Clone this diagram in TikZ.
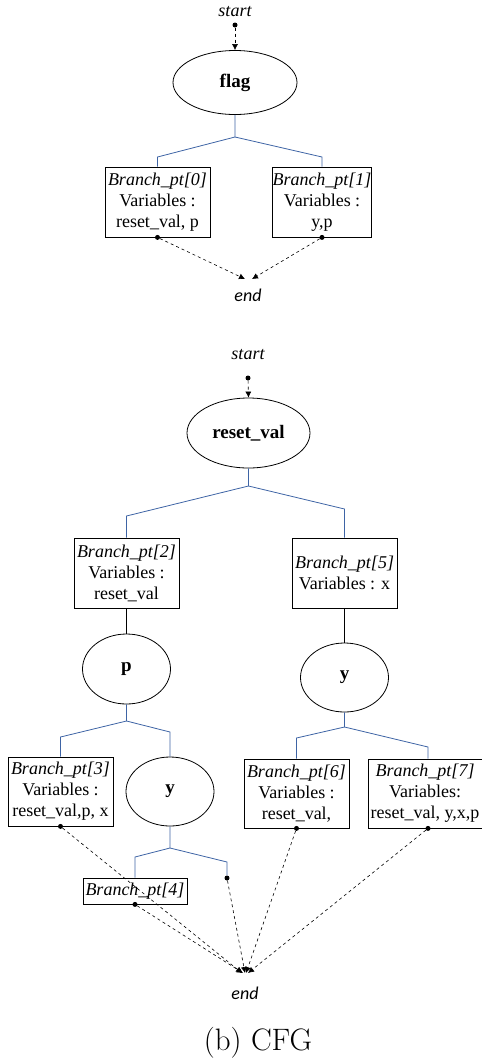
\documentclass[tikz,border=0pt]{standalone}
\usepackage{fontspec}
\newfontfamily\tnrfont{Liberation Serif}
\newfontfamily\endfont{Carlito}
\usetikzlibrary{arrows.meta,shapes.geometric,calc}
\definecolor{treeblue}{RGB}{62,100,165}
\begin{document}
\begin{tikzpicture}[x=1pt,y=-1pt,
  every node/.style={font=\tnrfont\fontsize{18}{21}\selectfont},
  bbox/.style={draw,line width=0.8pt,rectangle,align=center,inner sep=0pt,minimum width=105,minimum height=70},
  vnode/.style={draw,line width=0.8pt,ellipse,inner sep=0pt,font=\tnrfont\bfseries\fontsize{19}{21}\selectfont},
  tree/.style={draw=treeblue,line width=0.8pt},
  plain/.style={draw,line width=0.8pt},
  darr/.style={draw,dashed,line width=0.6pt,-{Latex[length=6pt,width=6pt]}},
  dotn/.style={circle,fill,inner sep=0pt,minimum size=5pt},
  lbl/.style={font=\tnrfont\itshape\fontsize{18}{21}\selectfont},
  endlbl/.style={font=\endfont\itshape\fontsize{18}{21}\selectfont}]
\useasboundingbox (0,0) rectangle (482,1061);

% ---------- first CFG ----------
\node[lbl] (s1) at (235,12) {start};
\node[dotn] (d1) at (235,25) {};
\node[vnode,minimum width=124,minimum height=64] (flag) at (235,82.5) {flag};
\draw[darr] (d1) -- (flag.north);
\node[bbox,minimum width=105] (b0) at (157.5,202) {\itshape Branch\_pt[0]\\Variables :\\reset\_val, p};
\node[bbox,minimum width=98] (b1) at (322,202) {\itshape Branch\_pt[1]\\Variables :\\y,p};
\coordinate (j0) at (235,137);
\coordinate (j0l) at (157.5,157);
\coordinate (j0r) at (322,157);
\draw[tree] (flag.south) -- (j0) -- (j0l) -- (b0.north);
\draw[tree] (j0) -- (j0r) -- (b1.north);
\node[endlbl] (e1) at (248,295) {end};
\coordinate (e1a) at (245,279);
\coordinate (e1b) at (252,279);
\node[dotn] (b0d) at (b0.south) {};
\node[dotn] (b1d) at (b1.south) {};
\draw[darr] (b0d) -- (e1a);
\draw[darr] (b1d) -- (e1b);

% ---------- second CFG ----------
\node[lbl] (s2) at (248,355) {start};
\node[dotn] (d2) at (248,378) {};
\node[vnode,minimum width=123,minimum height=70] (rv) at (248.5,433) {reset\_val};
\draw[darr] (d2) -- (rv.north);
\node[bbox] (b2) at (126.5,573) {\itshape Branch\_pt[2]\\Variables :\\reset\_val};
\node[bbox] (b5) at (344.5,573) {\itshape Branch\_pt[5]\\Variables : x};
\coordinate (j1) at (248.5,486);
\coordinate (j1l) at (126.5,516);
\coordinate (j1r) at (344.5,509);
\draw[tree] (rv.south) -- (j1) -- (j1l) -- (b2.north);
\draw[tree] (j1) -- (j1r) -- (b5.north);

\node[vnode,minimum width=88,minimum height=70] (p) at (126.5,669) {p};
\node[vnode,minimum width=88,minimum height=69] (yr) at (344.5,677.5) {y};
\draw[plain] (b2.south) -- (p.north);
\draw[plain] (b5.south) -- (yr.north);

\node[bbox,minimum height=69] (b3) at (60.5,791.5) {\itshape Branch\_pt[3]\\Variables :\\reset\_val,p, x};
\node[vnode,minimum width=88,minimum height=69] (ym) at (170,791.5) {y};
\coordinate (j2) at (126.5,721);
\coordinate (j2l) at (60.5,737);
\coordinate (j2r) at (170,732);
\draw[tree] (p.south) -- (j2) -- (j2l) -- (b3.north);
\draw[tree] (j2) -- (j2r) -- (ym.north);

\node[bbox,minimum width=104,minimum height=26] (b4) at (135,891) {\itshape Branch\_pt[4]};
\coordinate (j3) at (170,848);
\coordinate (j3l) at (135,857);
\coordinate (j3r) at (227,862);
\node[dotn] (d4r) at (227,878) {};
\draw[tree] (ym.south) -- (j3) -- (j3l) -- (b4.north);
\draw[tree] (j3) -- (j3r) -- (d4r);

\node[bbox,minimum height=69] (b6) at (296.5,793.5) {\itshape Branch\_pt[6]\\Variables :\\reset\_val,};
\node[bbox,minimum width=114,minimum height=69] (b7) at (425,793.5) {\itshape Branch\_pt[7]\\Variables:\\reset\_val, y,x,p};
\coordinate (j4) at (344.5,727);
\coordinate (j4l) at (296.5,738);
\coordinate (j4r) at (428,747);
\draw[tree] (yr.south) -- (j4) -- (j4l) -- (b6.north);
\draw[tree] (j4) -- (j4r) -- (j4r |- b7.north);

\node[endlbl] (e2) at (245,993) {end};
\coordinate (e2c) at (245,973);
\node[dotn] (b3d) at (b3.south) {};
\node[dotn] (b4d) at (b4.south) {};
\node[dotn] (b6d) at (b6.south) {};
\node[dotn] (b7d) at (b7.south -| j4r) {};
\draw[darr] (b3d) -- ($(e2c)+(-3,0)$);
\draw[darr] (b4d) -- ($(e2c)+(-2,0)$);
\draw[darr] (d4r) -- ($(e2c)+(0,0)$);
\draw[darr] (b6d) -- ($(e2c)+(1,0)$);
\draw[darr] (b7d) -- ($(e2c)+(3,0)$);

\node[font=\fontsize{31}{36}\selectfont] (cap) at (258,1043) {(b) CFG};
\end{tikzpicture}
\end{document}
